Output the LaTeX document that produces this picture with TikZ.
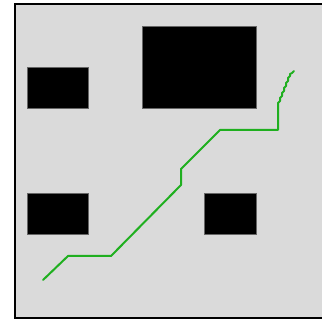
\documentclass[tikz,border=0pt]{standalone}
\usepackage{xcolor}
\definecolor{mapgray}{HTML}{DADADA}
\definecolor{pathgreen}{HTML}{1FAF1F}
\usetikzlibrary{calc}
\tikzset{
  field/.style   ={fill=mapgray, draw=none},
  frame/.style   ={draw=black, line width=2pt},
  obstacle/.style={fill=black, draw=black!60, line width=0.5pt},
  route/.style   ={draw=pathgreen, line width=2pt, line join=round, line cap=round},
}

\begin{document}
\begin{tikzpicture}[x=1pt, y=-1pt]
  \useasboundingbox (0,0) rectangle (322,320);
  % free space and its frame
  \fill[field] (15,4) rectangle (322,318);
  \draw[frame] (322,4) -- (15,4) -- (15,318) -- (322,318);
  % obstacles
  \draw[obstacle] (27,67)   rectangle (88,108);
  \draw[obstacle] (142,26)  rectangle (256,108);
  \draw[obstacle] (27,193)  rectangle (88,234);
  \draw[obstacle] (204,193) rectangle (256,234);
  % planned path
  \coordinate (start) at (43,280);
  \coordinate (goal)  at (294,71);
  \draw[route] (start) -- (68,256) -- (111,256) -- (181,185) -- (181,169)
    -- (220,130) -- (278,130) -- (278,103)
    -- (280,101) -- (280,98) -- (282,96) -- (282,93) -- (284,91) -- (284,88)
    -- (286,86) -- (286,83) -- (288,81) -- (288,78) -- (290,76) -- (290,74)
    -- (292,73) -- (goal);
\end{tikzpicture}
\end{document}
